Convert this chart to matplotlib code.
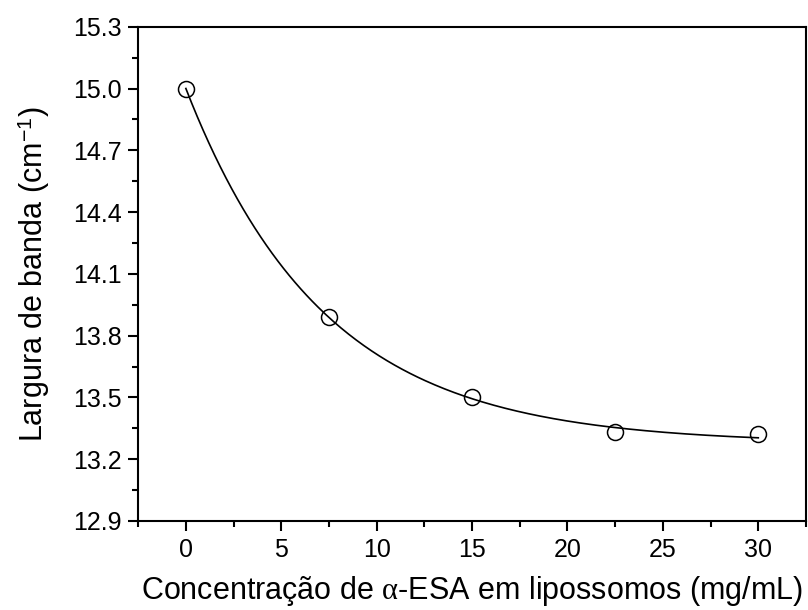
import matplotlib
matplotlib.use("Agg")
import matplotlib.pyplot as plt
import numpy as np
from matplotlib.ticker import MultipleLocator, FormatStrFormatter

plt.rcParams['font.family'] = ['Liberation Sans', 'DejaVu Sans']
# sans text, serif-looking greek letter in the math parts
plt.rcParams['mathtext.fontset'] = 'custom'
plt.rcParams['mathtext.rm'] = 'Liberation Sans'
plt.rcParams['mathtext.it'] = 'Liberation Serif'

# alpha-ESA concentration (mg/mL) and band width (cm^-1)
conc = [0.0, 7.5, 15.0, 22.5, 30.0]
width = [15.00, 13.89, 13.50, 13.33, 13.32]


def fit_exp_decay(x, y):
  # y = y0 + A*exp(-x/t): scan t, solve y0 and A by least squares
  x = np.asarray(x)
  y = np.asarray(y)
  best = None
  for t in np.linspace(1.0, 30.0, 2901):
    M = np.column_stack([np.ones_like(x), np.exp(-x / t)])
    coef, *_ = np.linalg.lstsq(M, y, rcond=None)
    err = np.sum((M @ coef - y) ** 2)
    if best is None or err < best[0]:
      best = (err, coef[0], coef[1], t)
  return best[1:]


y0, A, t = fit_exp_decay(conc, width)
xs = np.linspace(min(conc), max(conc), 300)
ys = y0 + A * np.exp(-xs / t)

fig = plt.figure(figsize=(8.08, 6.10), dpi=100)
ax = fig.add_axes([0.171, 0.146, 0.8265, 0.81])

ax.plot(xs, ys, color='black', lw=1.2)
ax.plot(conc, width, 'o', mfc='none', mec='black', ms=11.5, mew=1.1)

ax.set_xlim(-2.5, 32.5)
ax.set_ylim(12.9, 15.3)
ax.xaxis.set_major_locator(MultipleLocator(5))
ax.xaxis.set_minor_locator(MultipleLocator(2.5))
ax.yaxis.set_major_locator(MultipleLocator(0.3))
ax.yaxis.set_minor_locator(MultipleLocator(0.15))
ax.yaxis.set_major_formatter(FormatStrFormatter('%.1f'))

for s in ax.spines.values():
  s.set_linewidth(1.5)
ax.tick_params(which='both', direction='out', width=1.5, top=False, right=False)
ax.tick_params(which='major', length=7, labelsize=18, pad=5)
ax.tick_params(which='minor', length=4)

ax.set_xlabel(r'Concentração de $\alpha$-ESA em lipossomos (mg/mL)', fontsize=22, labelpad=9)
ax.set_ylabel(r'Largura de banda (cm$^{\mathrm{-1}}$)', fontsize=22, labelpad=15)

fig.savefig('out.png', dpi=100)
